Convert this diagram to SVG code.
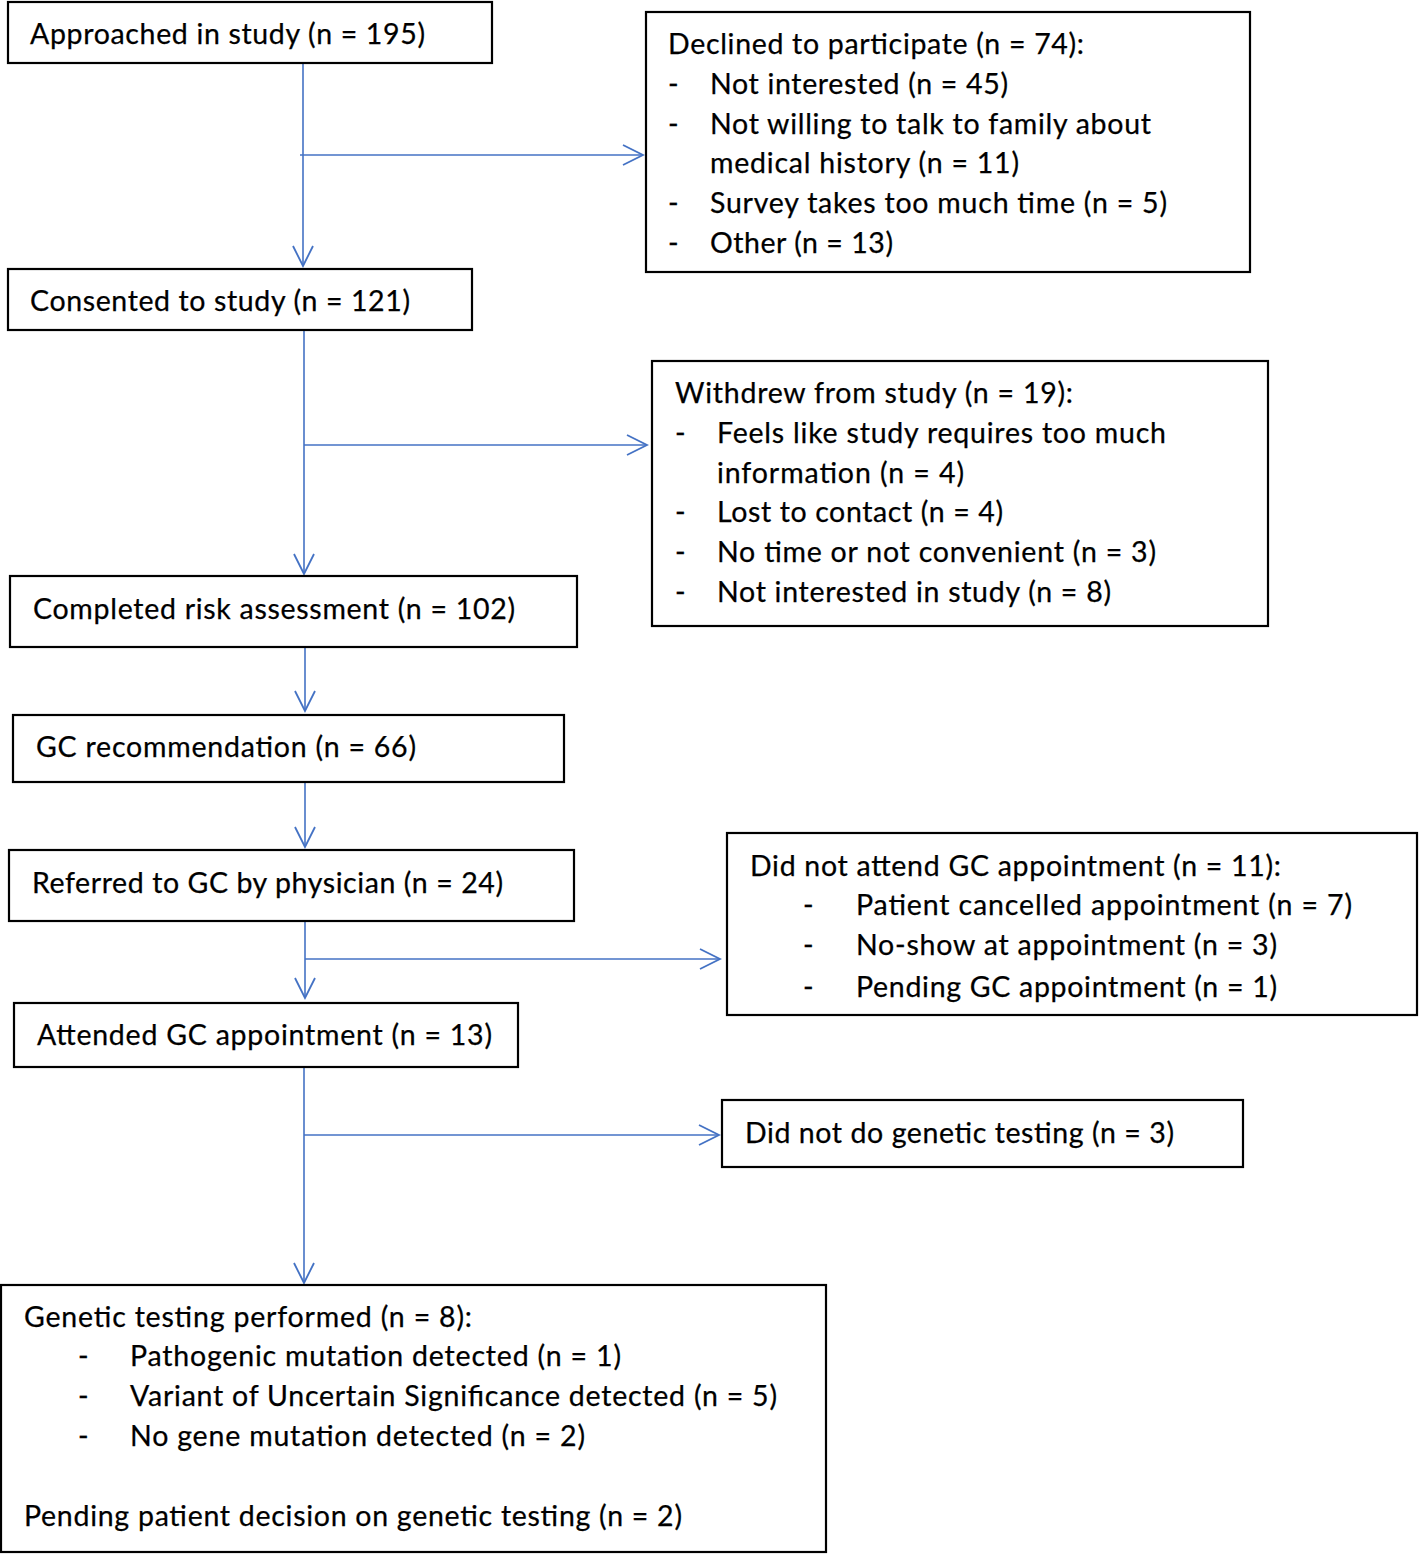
<svg xmlns="http://www.w3.org/2000/svg" width="1419" height="1554" viewBox="0 0 1419 1554">
<style>
.box{fill:#ffffff;stroke:#000000;stroke-width:2.2}
.t{font-family:Lato,"Open Sans","Liberation Sans",sans-serif;font-size:28.5px;fill:#000000;stroke:#000000;stroke-width:0.25}
.c{fill:none;stroke:#4472C4;stroke-width:1.6}
</style>
<defs>
<marker id="ah" markerUnits="userSpaceOnUse" markerWidth="24" markerHeight="24" viewBox="-22 -12 24 24" refX="0" refY="0" orient="auto">
<path d="M-20,-10 L0,0 L-20,10" fill="none" stroke="#4472C4" stroke-width="1.8"/>
</marker>
</defs>
<rect width="1419" height="1554" fill="#ffffff"/>
<g id="connectors">
<line class="c" x1="303" y1="63" x2="303" y2="266" marker-end="url(#ah)"/>
<line class="c" x1="300" y1="155" x2="643" y2="155" marker-end="url(#ah)"/>
<line class="c" x1="304" y1="330" x2="304" y2="574" marker-end="url(#ah)"/>
<line class="c" x1="304" y1="445" x2="647" y2="445" marker-end="url(#ah)"/>
<line class="c" x1="305" y1="647" x2="305" y2="711" marker-end="url(#ah)"/>
<line class="c" x1="305" y1="782" x2="305" y2="847" marker-end="url(#ah)"/>
<line class="c" x1="305" y1="921" x2="305" y2="998" marker-end="url(#ah)"/>
<line class="c" x1="305" y1="959" x2="720" y2="959" marker-end="url(#ah)"/>
<line class="c" x1="304" y1="1067" x2="304" y2="1283" marker-end="url(#ah)"/>
<line class="c" x1="304" y1="1135" x2="719" y2="1135" marker-end="url(#ah)"/>
</g>
<g id="approached">
<rect class="box" x="8" y="2" width="484" height="61"/>
<text class="t" x="30" y="44" textLength="395">Approached in study (n = 195)</text>
</g>
<g id="declined">
<rect class="box" x="646" y="12" width="604" height="260"/>
<text class="t" x="668" y="54" textLength="416">Declined to participate (n = 74):</text>
<text class="t" x="668" y="94">-</text>
<text class="t" x="710" y="94" textLength="298">Not interested (n = 45)</text>
<text class="t" x="668" y="134">-</text>
<text class="t" x="710" y="134" textLength="441">Not willing to talk to family about</text>
<text class="t" x="710" y="173" textLength="309">medical history (n = 11)</text>
<text class="t" x="668" y="213">-</text>
<text class="t" x="710" y="213" textLength="457">Survey takes too much time (n = 5)</text>
<text class="t" x="668" y="253">-</text>
<text class="t" x="710" y="253" textLength="183">Other (n = 13)</text>
</g>
<g id="consented">
<rect class="box" x="8" y="269" width="464" height="61"/>
<text class="t" x="30" y="311" textLength="380">Consented to study (n = 121)</text>
</g>
<g id="withdrew">
<rect class="box" x="652" y="361" width="616" height="265"/>
<text class="t" x="675" y="403" textLength="398">Withdrew from study (n = 19):</text>
<text class="t" x="675" y="443">-</text>
<text class="t" x="717" y="443" textLength="449">Feels like study requires too much</text>
<text class="t" x="717" y="483" textLength="247">information (n = 4)</text>
<text class="t" x="675" y="522">-</text>
<text class="t" x="717" y="522" textLength="286">Lost to contact (n = 4)</text>
<text class="t" x="675" y="562">-</text>
<text class="t" x="717" y="562" textLength="439">No time or not convenient (n = 3)</text>
<text class="t" x="675" y="602">-</text>
<text class="t" x="717" y="602" textLength="394">Not interested in study (n = 8)</text>
</g>
<g id="completed">
<rect class="box" x="10" y="576" width="567" height="71"/>
<text class="t" x="33" y="619" textLength="482">Completed risk assessment (n = 102)</text>
</g>
<g id="gcrec">
<rect class="box" x="13" y="715" width="551" height="67"/>
<text class="t" x="36" y="757" textLength="380">GC recommendation (n = 66)</text>
</g>
<g id="referred">
<rect class="box" x="9" y="850" width="565" height="71"/>
<text class="t" x="32" y="893" textLength="471">Referred to GC by physician (n = 24)</text>
</g>
<g id="notattend">
<rect class="box" x="727" y="833" width="690" height="182"/>
<text class="t" x="750" y="876" textLength="531">Did not attend GC appointment (n = 11):</text>
<text class="t" x="803" y="915">-</text>
<text class="t" x="856" y="915" textLength="496">Patient cancelled appointment (n = 7)</text>
<text class="t" x="803" y="955">-</text>
<text class="t" x="856" y="955" textLength="421">No-show at appointment (n = 3)</text>
<text class="t" x="803" y="997">-</text>
<text class="t" x="856" y="997" textLength="421">Pending GC appointment (n = 1)</text>
</g>
<g id="attended">
<rect class="box" x="14" y="1003" width="504" height="64"/>
<text class="t" x="37" y="1045" textLength="455">Attended GC appointment (n = 13)</text>
</g>
<g id="notgenetic">
<rect class="box" x="722" y="1100" width="521" height="67"/>
<text class="t" x="745" y="1143" textLength="429">Did not do genetic testing (n = 3)</text>
</g>
<g id="genetic">
<rect class="box" x="1" y="1285" width="825" height="267"/>
<text class="t" x="24" y="1327" textLength="448">Genetic testing performed (n = 8):</text>
<text class="t" x="78" y="1366">-</text>
<text class="t" x="130" y="1366" textLength="491">Pathogenic mutation detected (n = 1)</text>
<text class="t" x="78" y="1406">-</text>
<text class="t" x="130" y="1406" textLength="647">Variant of Uncertain Significance detected (n = 5)</text>
<text class="t" x="78" y="1446">-</text>
<text class="t" x="130" y="1446" textLength="455">No gene mutation detected (n = 2)</text>
<text class="t" x="24" y="1526" textLength="658">Pending patient decision on genetic testing (n = 2)</text>
</g>
</svg>
